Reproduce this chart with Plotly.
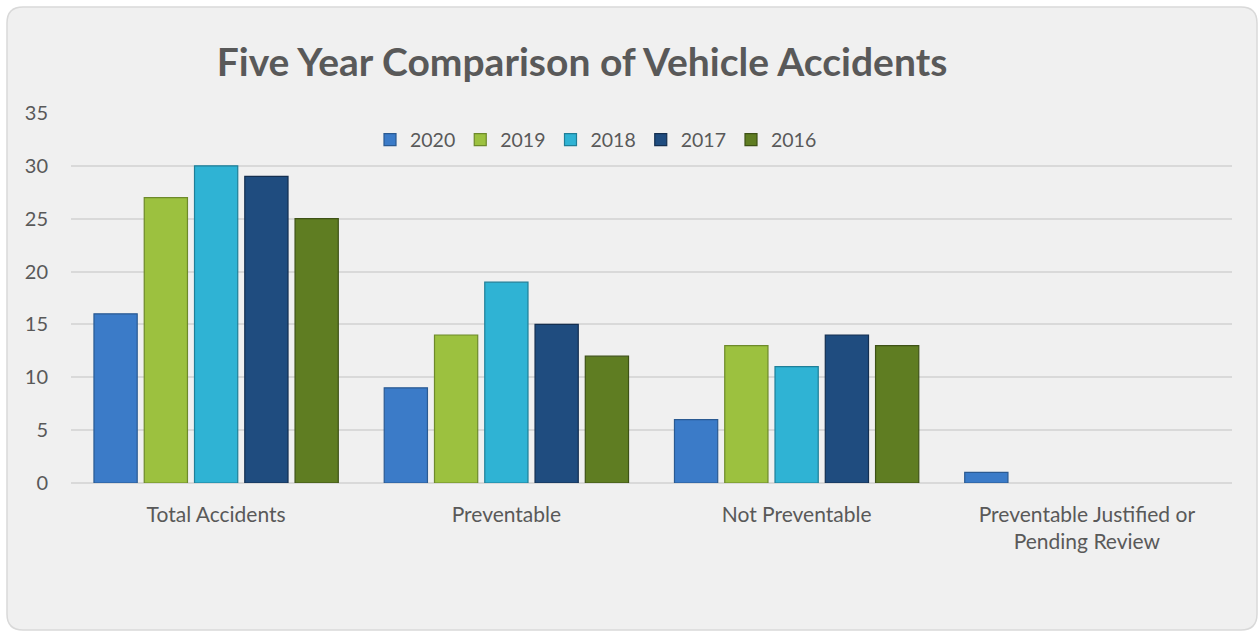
import plotly.graph_objects as go

categories = ["Total Accidents", "Preventable", "Not Preventable", "Preventable Justified or Pending Review"]
tick_labels = ["Total Accidents", "Preventable", "Not Preventable", "Preventable Justified or<br>Pending Review"]
years = ["2020", "2019", "2018", "2017", "2016"]
v2020 = [16, 9, 6, 1]
v2019 = [27, 14, 13, 0]
v2018 = [30, 19, 11, 0]
v2017 = [29, 15, 14, 0]
v2016 = [25, 12, 13, 0]
series = [v2020, v2019, v2018, v2017, v2016]
colors = ["#3b7bc8", "#9cc13f", "#2fb3d4", "#1f4c7f", "#5f7d22"]
edge = ["#2a5a92", "#6d8a2a", "#1f7f98", "#142f50", "#3e5216"]

W, H = 1260, 631
ml, mr, mt, mb = 71, 28, 113, 148
pw, ph = W - ml - mr, H - mt - mb

fig = go.Figure()
for name, vals, c, e in zip(years, series, colors, edge):
    widths = [1.2 if v else 0 for v in vals]
    fig.add_trace(go.Bar(x=categories, y=vals, name=name,
                         marker=dict(color=c, line=dict(color=e, width=widths))))

def px2x(p):
    return (p - ml) / pw

def py2y(p):
    return (H - mb - p) / ph

# rounded background panel
x0, x1, y0, y1, r = 7, 1257, 7, 630, 16
rx, ry = r / pw, r / ph
X0, X1, Y0, Y1 = px2x(x0), px2x(x1), py2y(y0), py2y(y1)
path = (f"M {X0+rx},{Y0} L {X1-rx},{Y0} Q {X1},{Y0} {X1},{Y0-ry} "
        f"L {X1},{Y1+ry} Q {X1},{Y1} {X1-rx},{Y1} L {X0+rx},{Y1} "
        f"Q {X0},{Y1} {X0},{Y1+ry} L {X0},{Y0-ry} Q {X0},{Y0} {X0+rx},{Y0} Z")

fig.update_layout(
    width=W, height=H,
    margin=dict(l=ml, r=mr, t=mt, b=mb),
    paper_bgcolor="white", plot_bgcolor="rgba(0,0,0,0)",
    font=dict(family="Lato, Open Sans, sans-serif", color="#595959", size=18),
    title=dict(text="<b>Five Year Comparison of Vehicle Accidents</b>",
               x=582 / W, xanchor="center", y=1 - 62 / H, yanchor="middle",
               font=dict(size=39, color="#595959", family="Lato, Open Sans, sans-serif")),
    barmode="group", bargap=0.134, bargroupgap=0.14,
    legend=dict(orientation="h", x=px2x(596), xanchor="center", y=py2y(140), yanchor="middle",
                font=dict(size=19.5, color="#595959"), bgcolor="rgba(0,0,0,0)",
                itemwidth=30, tracegroupgap=0),
    shapes=[dict(type="path", path=path, xref="paper", yref="paper",
                 fillcolor="#f0f0f0", line=dict(color="#d9d9d9", width=1.5), layer="below")],
    showlegend=True,
)
fig.update_yaxes(range=[0, 35], dtick=5, showgrid=True, gridcolor="#d9d9d9", gridwidth=1.5,
                 zeroline=True, zerolinecolor="#d9d9d9", zerolinewidth=2,
                 ticks="", ticklabelstandoff=22, tickfont=dict(size=20, color="#595959"))
fig.update_xaxes(tickvals=categories, ticktext=tick_labels, ticks="", showline=False,
                 ticklabelstandoff=17, tickfont=dict(size=21, color="#595959"))

fig.write_html("out.html")
